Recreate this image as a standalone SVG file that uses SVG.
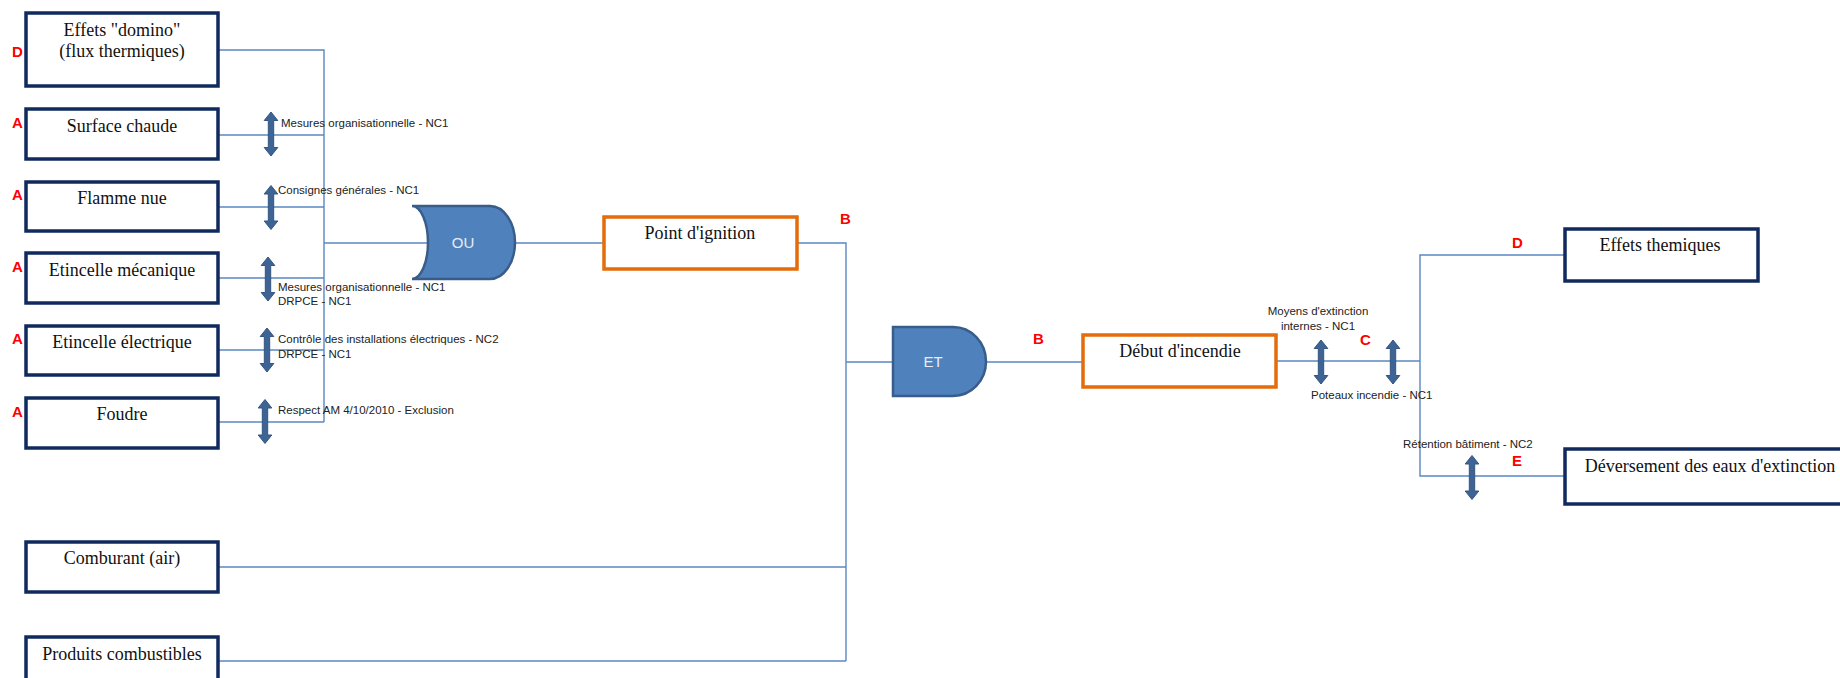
<svg xmlns="http://www.w3.org/2000/svg" width="1840" height="678" viewBox="0 0 1840 678">
  <style>
    .box { fill: #ffffff; stroke: #102A5E; stroke-width: 3.5; }
    .evt { fill: #ffffff; stroke: #E46C0A; stroke-width: 3.5; }
    .gate { fill: #4F81BD; stroke: #385D8A; stroke-width: 2.5; }
    .lbl { font-family: "Liberation Serif", "Times New Roman", serif; font-size: 18px; fill: #111; text-anchor: middle; }
    .gtxt { font-family: "Liberation Sans", Arial, sans-serif; font-size: 15px; fill: #E6EDF6; text-anchor: middle; }
    .note { font-family: "Liberation Sans", Arial, sans-serif; font-size: 11.5px; fill: #222; }
    .mark { font-family: "Liberation Sans", Arial, sans-serif; font-size: 15px; font-weight: bold; fill: #FF0000; }
    .wire { fill: none; stroke: #5A87C2; stroke-width: 1.4; }
    .barrier { fill: #3E6496; stroke: #34557F; stroke-width: 1; }
  </style>
  <defs>
    <!-- vertical double-headed barrier arrow, 44px tall, centred on origin -->
    <path id="dbl" class="barrier" d="M0,-22 L6.8,-13.5 L2.7,-13.5 L2.7,13.5 L6.8,13.5 L0,22 L-6.8,13.5 L-2.7,13.5 L-2.7,-13.5 L-6.8,-13.5 Z"/>
  </defs>

  <rect width="1840" height="678" fill="#ffffff"/>

  <!-- connectors -->
  <g id="connectors">
    <path class="wire" d="M218,50 H324 V422"/>
    <path class="wire" d="M218,135 H324"/>
    <path class="wire" d="M218,207 H324"/>
    <path class="wire" d="M218,278 H324"/>
    <path class="wire" d="M218,350 H324"/>
    <path class="wire" d="M218,422 H324"/>
    <path class="wire" d="M324,243 H428"/>
    <path class="wire" d="M515,243 H604"/>
    <path class="wire" d="M797,243 H846 V661"/>
    <path class="wire" d="M846,362 H893"/>
    <path class="wire" d="M219,567 H846"/>
    <path class="wire" d="M219,661 H846"/>
    <path class="wire" d="M986,362 H1083"/>
    <path class="wire" d="M1276,361 H1420"/>
    <path class="wire" d="M1565,255 H1420 V476 H1565"/>
  </g>

  <!-- barriers -->
  <g id="barriers">
    <use href="#dbl" x="271" y="134"/>
    <use href="#dbl" x="271" y="207.5"/>
    <use href="#dbl" x="268" y="279"/>
    <use href="#dbl" x="267" y="350"/>
    <use href="#dbl" x="265" y="421.5"/>
    <use href="#dbl" x="1321" y="362"/>
    <use href="#dbl" x="1393" y="362"/>
    <use href="#dbl" x="1472" y="477.5"/>
  </g>

  <!-- initiating events -->
  <g id="effets-domino">
    <rect class="box" x="26" y="13" width="192" height="73"/>
    <text class="lbl" x="122" y="36">Effets "domino"</text>
    <text class="lbl" x="122" y="57">(flux thermiques)</text>
  </g>
  <g id="surface-chaude">
    <rect class="box" x="26" y="109" width="192" height="50"/>
    <text class="lbl" x="122" y="132">Surface chaude</text>
  </g>
  <g id="flamme-nue">
    <rect class="box" x="26" y="182" width="192" height="49"/>
    <text class="lbl" x="122" y="204">Flamme nue</text>
  </g>
  <g id="etincelle-mecanique">
    <rect class="box" x="26" y="253" width="192" height="50"/>
    <text class="lbl" x="122" y="276">Etincelle mécanique</text>
  </g>
  <g id="etincelle-electrique">
    <rect class="box" x="26" y="326" width="192" height="49"/>
    <text class="lbl" x="122" y="348">Etincelle électrique</text>
  </g>
  <g id="foudre">
    <rect class="box" x="26" y="398" width="192" height="50"/>
    <text class="lbl" x="122" y="420">Foudre</text>
  </g>
  <g id="comburant">
    <rect class="box" x="26" y="542" width="192" height="50"/>
    <text class="lbl" x="122" y="564">Comburant (air)</text>
  </g>
  <g id="produits-combustibles">
    <rect class="box" x="26" y="637" width="192" height="60"/>
    <text class="lbl" x="122" y="660">Produits combustibles</text>
  </g>

  <!-- gates -->
  <g id="gate-ou">
    <path class="gate" d="M412,206 L490,206 A25,36.5 0 0 1 490,279 L412,279 A16,36.5 0 0 0 412,206 Z"/>
    <text class="gtxt" x="463" y="248">OU</text>
  </g>
  <g id="gate-et">
    <path class="gate" d="M893,327 L953,327 A33,34.5 0 0 1 953,396 L893,396 Z"/>
    <text class="gtxt" x="933" y="367">ET</text>
  </g>

  <!-- intermediate and central events -->
  <g id="point-ignition">
    <rect class="evt" x="604" y="217" width="193" height="52"/>
    <text class="lbl" x="700" y="239">Point d'ignition</text>
  </g>
  <g id="debut-incendie">
    <rect class="evt" x="1083" y="335" width="193" height="52"/>
    <text class="lbl" x="1180" y="357">Début d'incendie</text>
  </g>

  <!-- consequences -->
  <g id="effets-thermiques">
    <rect class="box" x="1565" y="229" width="193" height="52"/>
    <text class="lbl" x="1660" y="251">Effets themiques</text>
  </g>
  <g id="deversement">
    <rect class="box" x="1565" y="449" width="290" height="55"/>
    <text class="lbl" x="1710" y="472">Déversement des eaux d'extinction</text>
  </g>

  <!-- barrier notes -->
  <g id="notes">
    <text class="note" x="281" y="127">Mesures organisationnelle - NC1</text>
    <text class="note" x="278" y="194">Consignes générales - NC1</text>
    <text class="note" x="278" y="291">Mesures organisationnelle - NC1</text>
    <text class="note" x="278" y="305">DRPCE - NC1</text>
    <text class="note" x="278" y="343">Contrôle des installations électriques - NC2</text>
    <text class="note" x="278" y="358">DRPCE - NC1</text>
    <text class="note" x="278" y="414">Respect AM 4/10/2010 - Exclusion</text>
    <text class="note" x="1318" y="315" text-anchor="middle">Moyens d'extinction</text>
    <text class="note" x="1318" y="330" text-anchor="middle">internes - NC1</text>
    <text class="note" x="1311" y="399">Poteaux incendie - NC1</text>
    <text class="note" x="1403" y="448">Rétention bâtiment - NC2</text>
  </g>

  <!-- category marks -->
  <g id="marks">
    <text class="mark" x="12" y="57">D</text>
    <text class="mark" x="12" y="128">A</text>
    <text class="mark" x="12" y="200">A</text>
    <text class="mark" x="12" y="272">A</text>
    <text class="mark" x="12" y="344">A</text>
    <text class="mark" x="12" y="417">A</text>
    <text class="mark" x="840" y="224" font-size="13.5">B</text>
    <text class="mark" x="1033" y="344" font-size="13.5">B</text>
    <text class="mark" x="1360" y="345" font-size="13.5">C</text>
    <text class="mark" x="1512" y="248" font-size="13.5">D</text>
    <text class="mark" x="1512" y="466" font-size="13.5">E</text>
  </g>
</svg>
